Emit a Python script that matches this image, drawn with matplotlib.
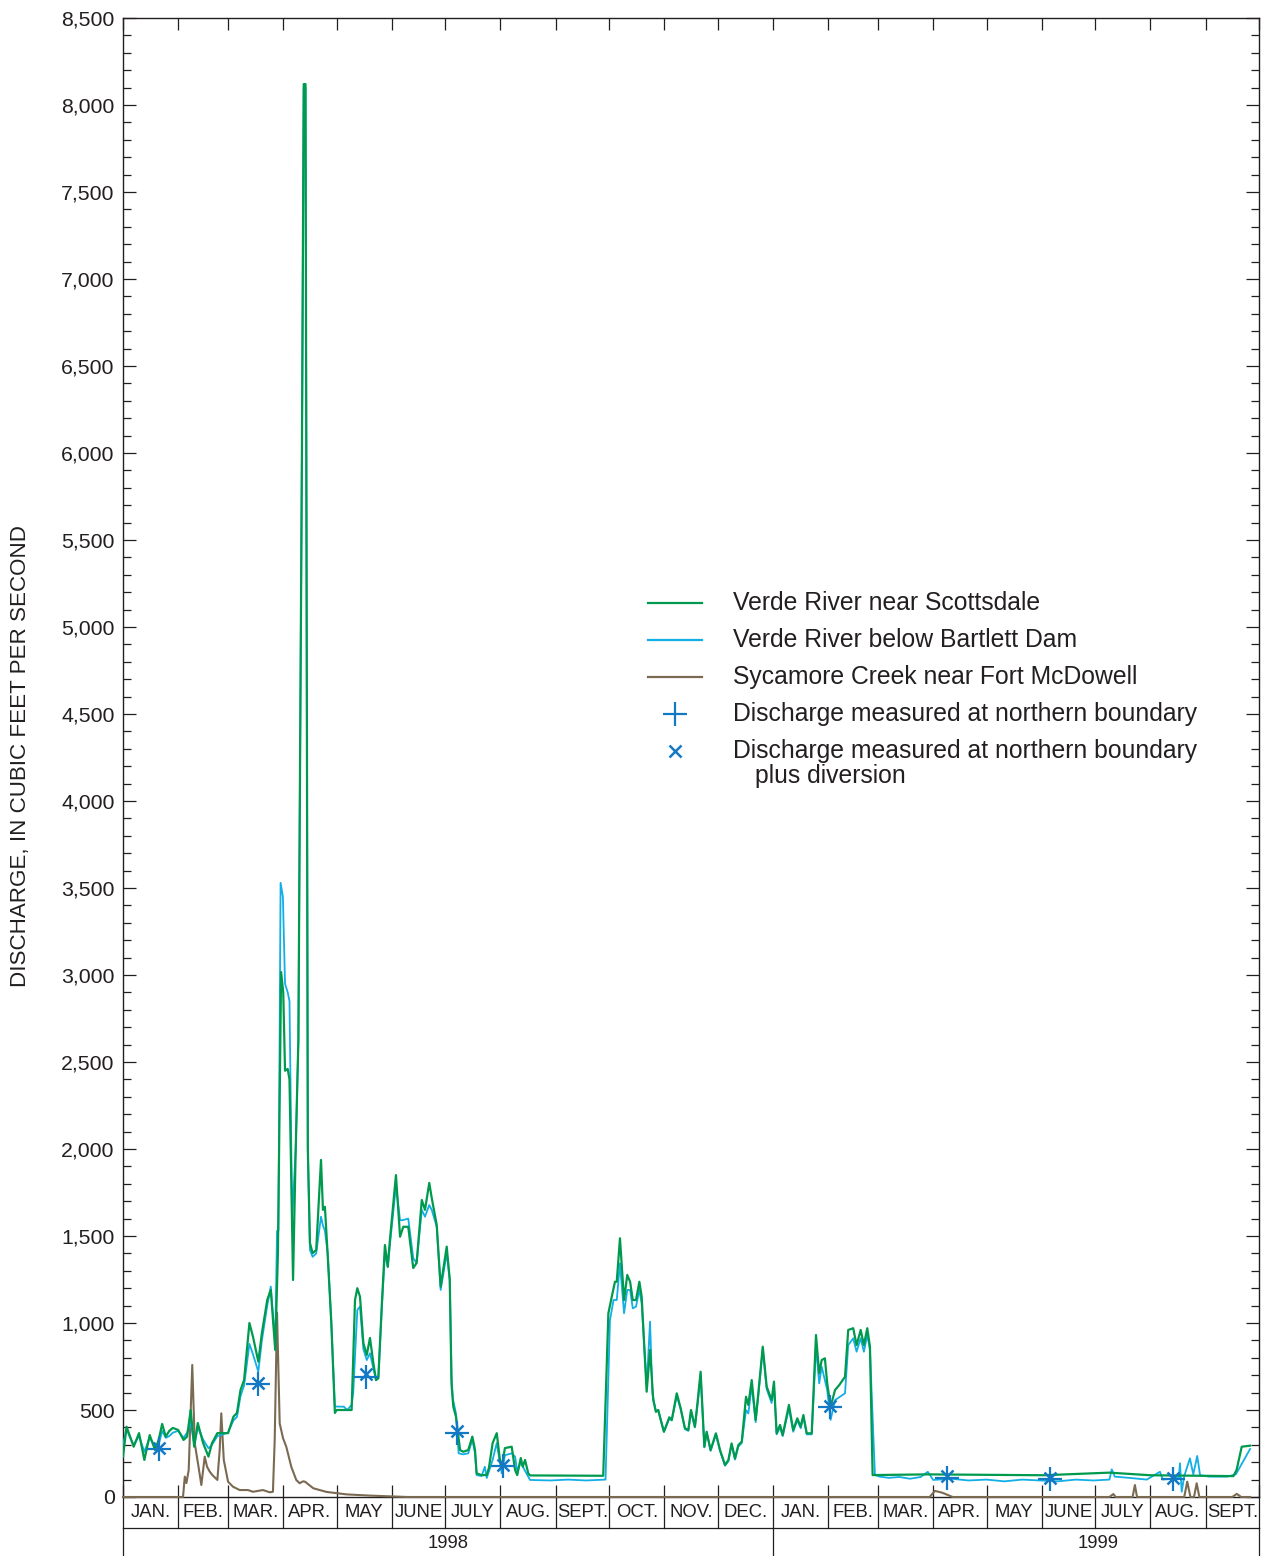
import numpy as np
import matplotlib.pyplot as plt
from matplotlib.ticker import MultipleLocator, FuncFormatter

plt.rcParams['font.family'] = ['Liberation Sans', 'DejaVu Sans']

# days counted from Jan 1, 1998; discharge in cubic feet per second
green_day = [0, 2, 4, 6, 9, 12, 15, 18, 20, 22, 24, 26, 28, 31, 34, 36, 38, 40, 42, 45,
             48, 50, 53, 56, 59, 62, 64, 66, 68, 71, 73, 76, 78, 81, 83, 85.5, 87, 88.8, 90, 91,
             92.5, 93.5, 95.5, 97, 98.5, 100.5, 101.5, 102.5, 103.8, 105, 106.5, 108.5, 111.2, 112.3, 113.4, 115,
             117, 119, 120, 128.4, 130.3, 131.6, 133.1, 135, 136.9, 138.7, 140.6, 142.1, 143.4, 145.3,
             147.1, 148.7, 149.9, 153.3, 155.6, 157.4, 160.2, 163, 164.9, 167.8, 169.6, 172, 173.4, 176.2,
             178.4, 181.8, 183.5, 184.5, 185.5, 187, 189.3, 191.1, 193.9, 196.2, 197.7, 198.6, 201.4, 204.3,
             205.5, 207.6, 209.9, 211.7, 212.7, 214.5, 218.3, 220.2, 221.4, 223.4, 224.5, 225.8, 227.6, 228.6,
             269.7, 272.6, 274.5, 276.3, 277.3, 279.1, 281.4, 283.2, 284.8, 286.3, 288.1, 290, 291.3, 294.1,
             296, 297.8, 299.3, 300.6, 302, 303.8, 306.8, 308.2, 311, 313.2, 315.6, 317.5, 319, 321.2,
             322.8, 324.4, 326.5, 327.8, 330, 333, 335.3, 338.1, 340, 341.8, 343.7, 345.6, 347.5, 349.9,
             351.2, 353.1, 355.3, 356.8, 359.3, 361.5, 364.3, 365.6, 367.1, 369, 370.5, 374, 376.4, 378.7,
             380.6, 382.1, 384, 386.8, 389.2, 391, 392.4, 394.2, 395.5, 397.4, 399.9, 402.3, 405.5, 407.3,
             410.1, 412, 414.3, 416.1, 418, 419.5, 421, 452, 517, 554, 577, 623.6, 625.4, 628.3, 633]
green_cfs = [232, 404, 347, 289, 367, 213, 356, 270, 328, 420, 347, 380, 397, 385, 328, 347, 500, 289, 425, 310,
             232, 310, 367, 367, 367, 461, 483, 615, 672, 1000, 921, 778, 942, 1132, 1190, 845, 1400, 3017, 2900, 2450,
             2460, 2400, 1247, 2000, 2626, 6017, 8120, 8120, 2000, 1459, 1402, 1419, 1937, 1650, 1668, 1381,
             1000, 483, 500, 500, 1132, 1200, 1151, 884, 816, 914, 770, 672, 683, 1094,
             1448, 1323, 1477, 1850, 1496, 1553, 1553, 1316, 1345, 1707, 1650, 1805, 1718, 1563,
             1209, 1439, 1250, 650, 519, 462, 270, 260, 270, 347, 270, 136, 126, 126,
             167, 310, 367, 213, 174, 281, 289, 155, 126, 224, 174, 213, 136, 124,
             122, 1056, 1151, 1237, 1237, 1487, 1132, 1276, 1237, 1132, 1132, 1237, 1151, 605,
             845, 557, 490, 500, 443, 375, 458, 443, 596, 510, 395, 385, 500, 404,
             557, 720, 289, 375, 270, 366, 270, 184, 213, 308, 222, 299, 318, 576,
             529, 672, 443, 596, 864, 634, 557, 663, 366, 414, 356, 529, 385, 452,
             404, 471, 366, 366, 931, 711, 787, 797, 653, 519, 615, 644, 691, 960,
             970, 873, 960, 873, 970, 864, 126, 130, 125, 140, 125, 120, 155, 289, 295]

blue_day = [0, 2, 4, 6, 9, 12, 15, 18, 20, 22, 24, 26, 28, 31, 34, 36, 38, 40, 42, 45,
            48, 50, 53, 56, 59, 62, 64, 66, 68, 71, 73, 76, 78, 81, 83, 85.5, 86.5, 87.3, 88.5, 89.8,
            91, 92.5, 93.5, 95, 97, 98.5, 100.5, 101.5, 102.5, 103.8, 105, 106.5, 108.5, 111.2, 112.3, 113.4,
            115, 117, 119, 124, 126, 128.4, 129.3, 131.6, 133.1, 135, 136.9, 138.7, 140.6, 142.1,
            143.4, 145.3, 147.1, 148.7, 149.9, 153.3, 155.6, 157.4, 160.2, 163, 164.9, 167.8, 169.6, 172,
            173.4, 176.2, 178.4, 181.8, 183.5, 184.5, 185.2, 187, 188.5, 191.1, 193.9, 196.2, 197.7, 198.6,
            201.4, 203.2, 204.3, 207.6, 209.9, 211.7, 212.7, 214.5, 218.3, 220.2, 221.4, 223.4, 225.8, 228.6,
            240, 250, 260, 271, 273.5, 275.5, 277.3, 279.1, 281.4, 283.2, 284.8, 286.3, 288.1, 290,
            291.3, 294.1, 296, 297.3, 299.3, 300.6, 302, 303.8, 306.8, 308.2, 311, 313.2, 315.6, 317.5,
            319, 321.2, 322.8, 324.4, 326.5, 327.8, 330, 333, 335.3, 338.1, 340, 341.8, 343.7, 345.6,
            347.5, 349.9, 351.2, 353.1, 355.3, 356.8, 359.3, 361.5, 364.3, 365.6, 367.1, 369, 370.5, 374,
            376.4, 378.7, 380.6, 382.1, 384, 386.8, 389.2, 391, 392.4, 395.5, 397.4, 399.9, 405.5, 407.3,
            410.1, 412, 414.3, 416.1, 418, 419.5, 422.3, 425, 430, 436, 442, 448, 452, 455,
            465, 475, 485, 495, 505, 515, 525, 535, 545, 554, 555.3, 557, 565, 575,
            582.4, 584, 593, 593.6, 594.6, 596, 599.2, 601.1, 603.3, 604.9, 610, 620, 625, 633]
blue_cfs = [300, 390, 340, 300, 350, 260, 340, 290, 300, 380, 340, 350, 370, 380, 340, 370, 430, 300, 400, 330,
            280, 300, 350, 360, 370, 440, 460, 580, 640, 880, 820, 720, 900, 1100, 1210, 880, 1530, 1530, 3530, 3450,
            2950, 2900, 2850, 1600, 2000, 2626, 6017, 8100, 8100, 2000, 1420, 1380, 1400, 1611, 1560, 1530,
            1400, 1000, 520, 519, 500, 530, 598, 1075, 1094, 850, 787, 826, 740, 672,
            683, 1075, 1400, 1323, 1450, 1790, 1590, 1592, 1600, 1373, 1345, 1650, 1611, 1678,
            1650, 1553, 1190, 1400, 1250, 700, 568, 480, 251, 245, 251, 330, 250, 126,
            120, 174, 109, 213, 310, 200, 136, 240, 251, 232, 150, 200, 150, 98,
            95, 100, 95, 100, 1017, 1132, 1132, 1343, 1056, 1190, 1190, 1084, 1094, 1190,
            1113, 634, 1008, 596, 490, 500, 443, 375, 450, 440, 580, 505, 390, 380,
            490, 400, 540, 700, 285, 370, 265, 360, 265, 180, 205, 300, 215, 290,
            310, 500, 480, 640, 430, 580, 850, 620, 540, 640, 360, 400, 350, 510,
            375, 440, 395, 460, 360, 360, 864, 653, 749, 615, 443, 557, 596, 873,
            912, 835, 912, 835, 931, 845, 126, 117, 110, 115, 105, 115, 145, 98,
            105, 95, 100, 90, 100, 95, 90, 100, 95, 100, 159, 117, 110, 100,
            145, 100, 110, 194, 30, 120, 222, 130, 236, 125, 117, 117, 130, 276]

creek_day = [0, 33.7, 34.7, 35.6, 36.9, 38.9, 40.3, 42.1, 44, 45.9, 47.2, 48.7, 50.2, 53, 54.3, 55.2,
             56.6, 59, 61.8, 65.5, 70.2, 73, 78.6, 82.4, 84.2, 85.2, 86.5, 88, 89.9, 91.7, 94.5, 97.3,
             99.2, 101.1, 102.2, 106.9, 114.4, 125.6, 138.7, 160, 453, 456, 460, 466, 554, 556.2, 557.5,
             567, 568.3, 569.5, 596, 597.7, 599.5, 601.5, 603, 604.5, 623, 625.5, 628, 633]
creek_cfs = [0, 0, 117, 80, 155, 759, 308, 194, 69, 232, 174, 146, 126, 98, 270, 481,
             213, 88, 59, 40, 40, 30, 40, 27, 30, 328, 1060, 423, 337, 289, 174, 98,
             79, 90, 88, 50, 29, 15, 8, 0, 0, 35, 25, 0, 0, 17, 0,
             0, 69, 0, 0, 88, 0, 0, 79, 0, 0, 18, 0, 0]

meas_day = [20, 75.8, 136.3, 187.4, 213.2, 397, 463, 520.6, 589.9]
meas_cfs = [275, 648, 690, 368, 180, 515, 112, 105, 105]
meas_div_cfs = [282, 655, 705, 378, 186, 522, 118, 110, 110]

month_edges = [0, 31, 59, 90, 120, 151, 181, 212, 243, 273, 304, 334, 365,
               396, 424, 455, 485, 516, 546, 577, 608, 638]
month_names = ['JAN.', 'FEB.', 'MAR.', 'APR.', 'MAY', 'JUNE', 'JULY', 'AUG.', 'SEPT.', 'OCT.',
               'NOV.', 'DEC.', 'JAN.', 'FEB.', 'MAR.', 'APR.', 'MAY', 'JUNE', 'JULY', 'AUG.', 'SEPT.']
years = ['1998', '1999']
year_mid = [182.5, 547.5]

GREEN = '#009a4e'
BLUE = '#12aee6'
BROWN = '#7a6a52'
MARK = '#1479c4'
INK = '#231f20'

fig = plt.figure(figsize=(12.64, 15.56), dpi=100)
ax = fig.add_axes([123/1264, 59/1556, 1136/1264, 1479/1556])

ax.plot(creek_day, creek_cfs, color=BROWN, lw=1.5, zorder=3, clip_on=False)
ax.plot(blue_day, blue_cfs, color=BLUE, lw=1.3, zorder=4)
ax.plot(green_day, green_cfs, color=GREEN, lw=1.6, zorder=5)
ax.plot(meas_day, meas_cfs, ls='none', marker='+', ms=17, mew=1.6, color=MARK, zorder=6)
ax.plot(meas_day, meas_div_cfs, ls='none', marker='x', ms=8.5, mew=1.8, color=MARK, zorder=6)

ax.set_xlim(0, 638)
ax.set_ylim(0, 8500)

for s in ax.spines.values():
    s.set_color(INK)
    s.set_linewidth(1.0)

ax.set_xticks(month_edges)
ax.tick_params(axis='x', direction='in', top=True, bottom=True, labelbottom=False,
               length=8.5, width=0.9, color=INK)
ax.yaxis.set_major_locator(MultipleLocator(500))
ax.yaxis.set_minor_locator(MultipleLocator(100))
ax.yaxis.set_major_formatter(FuncFormatter(lambda v, p: f'{int(v):,}'))
ax.tick_params(axis='y', which='major', direction='in', left=True, right=True,
               length=9.5, width=0.9, color=INK, labelsize=15.3, labelcolor=INK, pad=6)
ax.tick_params(axis='y', which='minor', direction='in', left=True, right=True,
               length=6, width=0.9, color=INK)

# month / year boxes under the axis
tr = ax.get_xaxis_transform()
row1 = -31/1479
row2 = -59/1479
for d in month_edges:
    ax.plot([d, d], [0, row1], transform=tr, color=INK, lw=0.9, clip_on=False)
ax.plot([0, 638], [row1, row1], transform=tr, color=INK, lw=0.9, clip_on=False)
for d in [0, 365, 638]:
    ax.plot([d, d], [row1, row2], transform=tr, color=INK, lw=0.9, clip_on=False)
for i, name in enumerate(month_names):
    mid = (month_edges[i] + month_edges[i+1]) / 2
    ax.text(mid, row1/2, name, transform=tr, ha='center', va='center',
            fontsize=13.3, color=INK)
for y, m in zip(years, year_mid):
    ax.text(m, -46/1479, y, transform=tr, ha='center', va='center', fontsize=13.3, color=INK)

fig.text(21/1264, 1 - 756/1556, 'DISCHARGE, IN CUBIC FEET PER SECOND', rotation=90,
         ha='center', va='center', fontsize=16.1, color=INK)

# legend
def axp(px, py):
    return (px - 123) / 1136, (1497 - py) / 1479

leg_rows = [
    (603, 'line', GREEN, 'Verde River near Scottsdale'),
    (640, 'line', BLUE, 'Verde River below Bartlett Dam'),
    (677, 'line', BROWN, 'Sycamore Creek near Fort McDowell'),
    (714, '+', MARK, 'Discharge measured at northern boundary'),
    (751, 'x', MARK, 'Discharge measured at northern boundary'),
]
for py, kind, col, label in leg_rows:
    x0, y0 = axp(648, py)
    x1, _ = axp(702, py)
    if kind == 'line':
        ax.plot([x0, x1], [y0, y0], transform=ax.transAxes, color=col, lw=1.6, clip_on=False)
    elif kind == '+':
        ax.plot([(x0 + x1) / 2], [y0], transform=ax.transAxes, marker='+', ms=17, mew=1.6, color=col)
    else:
        ax.plot([(x0 + x1) / 2], [y0], transform=ax.transAxes, marker='x', ms=8.5, mew=1.8, color=col)
    tx, ty = axp(733, py)
    ax.text(tx, ty, label, transform=ax.transAxes, ha='left', va='center', fontsize=17.8, color=INK)
tx, ty = axp(755, 776)
ax.text(tx, ty, 'plus diversion', transform=ax.transAxes, ha='left', va='center', fontsize=17.8, color=INK)

fig.savefig('out.png', dpi=100)
